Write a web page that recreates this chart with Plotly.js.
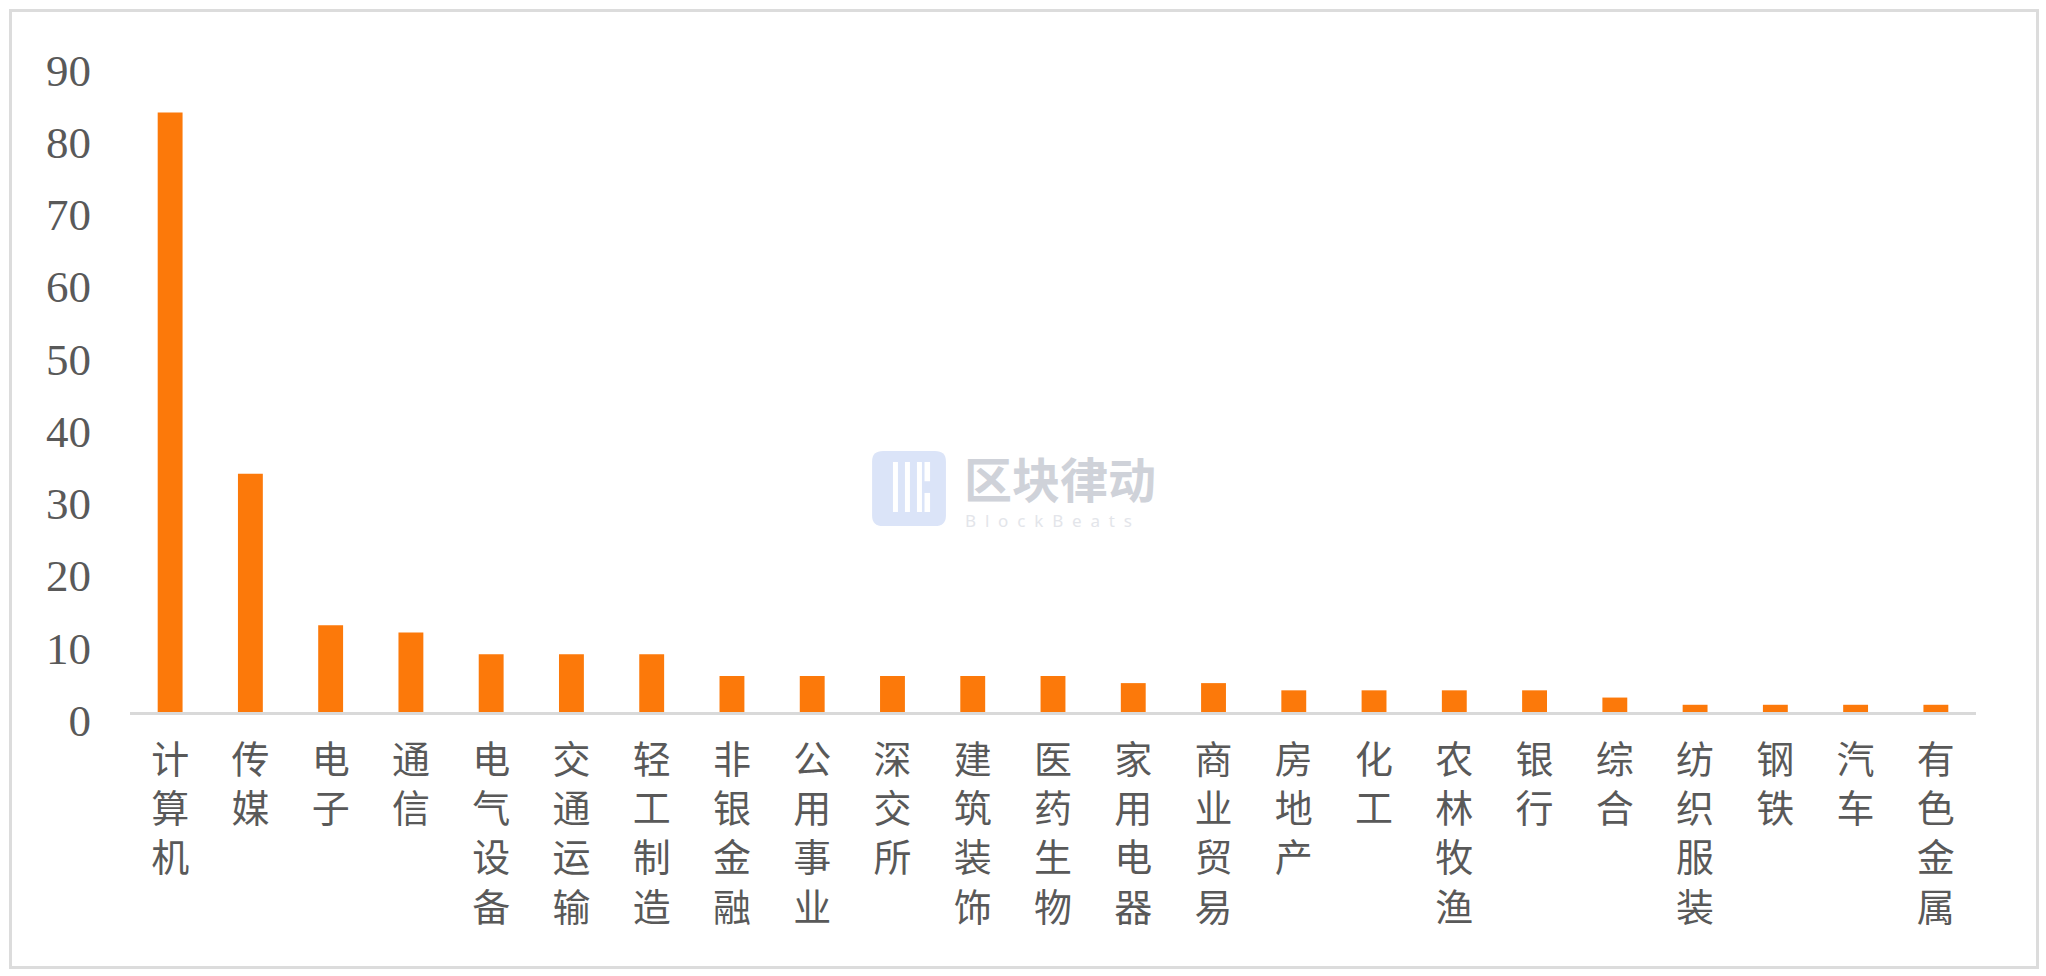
<!DOCTYPE html>
<html>
<head>
<meta charset="utf-8">
<script src="https://cdn.plot.ly/plotly-3.0.1.min.js"></script>
<style>
  html, body { margin: 0; padding: 0; background: #ffffff; }
  #chart { width: 2046px; height: 976px; position: absolute; left: 0; top: 0; }
  #frame { position: absolute; left: 9px; top: 9px; width: 2024px; height: 954px;
           border: 3px solid #dcdcdc; pointer-events: none; }
</style>
</head>
<body>
<div id="chart"></div>
<div id="frame"></div>
<script>
// Industry categories (x axis)
const categories = ["计算机", "传媒", "电子", "通信", "电气设备", "交通运输", "轻工制造", "非银金融",
  "公用事业", "深交所", "建筑装饰", "医药生物", "家用电器", "商业贸易", "房地产", "化工",
  "农林牧渔", "银行", "综合", "纺织服装", "钢铁", "汽车", "有色金属"];
// Values
const values = [83, 33, 12, 11, 8, 8, 8, 5, 5, 5, 5, 5, 4, 4, 3, 3, 3, 3, 2, 1, 1, 1, 1];
// Y axis ticks
const yTicks = [0, 10, 20, 30, 40, 50, 60, 70, 80, 90];

// Vertical (stacked) tick labels
const stackedLabels = categories.map(c => Array.from(c).join("<br>"));

const trace = {
  type: "bar",
  x: categories,
  y: values,
  marker: { color: "#fc790a", line: { width: 0 } },
  hoverinfo: "x+y"
};

// watermark logo pieces (decoration, paper coordinates)
function rect(x0, x1, y0, y1, color) {
  return { type: "rect", xref: "paper", yref: "paper", x0: x0, x1: x1, y0: y0, y1: y1,
           fillcolor: color, line: { width: 0 }, layer: "below" };
}
const logoShapes = [
  { type: "path", xref: "paper", yref: "paper",
    path: "M 0.408 0.4015 L 0.436 0.4015 Q 0.442 0.4015 0.442 0.3855 L 0.442 0.3020 Q 0.442 0.286 0.436 0.286 L 0.408 0.286 Q 0.402 0.286 0.402 0.3020 L 0.402 0.3855 Q 0.402 0.4015 0.408 0.4015 Z",
    fillcolor: "#dbe4f8", line: { width: 0 }, layer: "below" },
  rect(0.4133, 0.4160, 0.3077, 0.3846, "#ffffff"),
  rect(0.4198, 0.4225, 0.3077, 0.3846, "#ffffff"),
  rect(0.4263, 0.4290, 0.3077, 0.3846, "#ffffff"),
  rect(0.4304, 0.4334, 0.3550, 0.3846, "#ffffff"),
  rect(0.4304, 0.4334, 0.3077, 0.3370, "#ffffff")
];

const layout = {
  width: 2046,
  height: 976,
  paper_bgcolor: "#ffffff",
  plot_bgcolor: "#ffffff",
  margin: { l: 130, r: 70, t: 62, b: 264 },
  bargap: 0.69,
  showlegend: false,
  xaxis: {
    type: "category",
    tickmode: "array",
    tickvals: categories,
    ticktext: stackedLabels,
    tickangle: 0,
    showgrid: false,
    zeroline: false,
    showline: true,
    linecolor: "#d9d9d9",
    linewidth: 3,
    ticks: "",
    ticklabelstandoff: 12,
    tickfont: { family: "Noto Sans CJK SC", size: 38, color: "#595959" }
  },
  yaxis: {
    range: [0, 90],
    tickmode: "array",
    tickvals: yTicks,
    ticktext: yTicks.map(String),
    showgrid: false,
    zeroline: false,
    showline: false,
    ticks: "",
    ticklabelstandoff: 38,
    ticklabelshift: 8,
    tickfont: { family: "Liberation Serif", size: 45, color: "#595959" }
  },
  shapes: logoShapes,
  annotations: [
    { xref: "paper", yref: "paper", x: 0.4505, y: 0.362, xanchor: "left", yanchor: "middle",
      text: "<b>区块律动</b>", showarrow: false,
      font: { family: "Noto Sans CJK SC", size: 48, color: "#cfd2d9" } },
    { xref: "paper", yref: "paper", x: 0.4515, y: 0.294, xanchor: "left", yanchor: "middle",
      text: "B  l  o  c  k  B  e  a  t  s", showarrow: false,
      font: { family: "Noto Sans", size: 17, color: "#e3e5ea" } }
  ]
};

Plotly.newPlot("chart", [trace], layout, { displayModeBar: false, staticPlot: true });
</script>
</body>
</html>
